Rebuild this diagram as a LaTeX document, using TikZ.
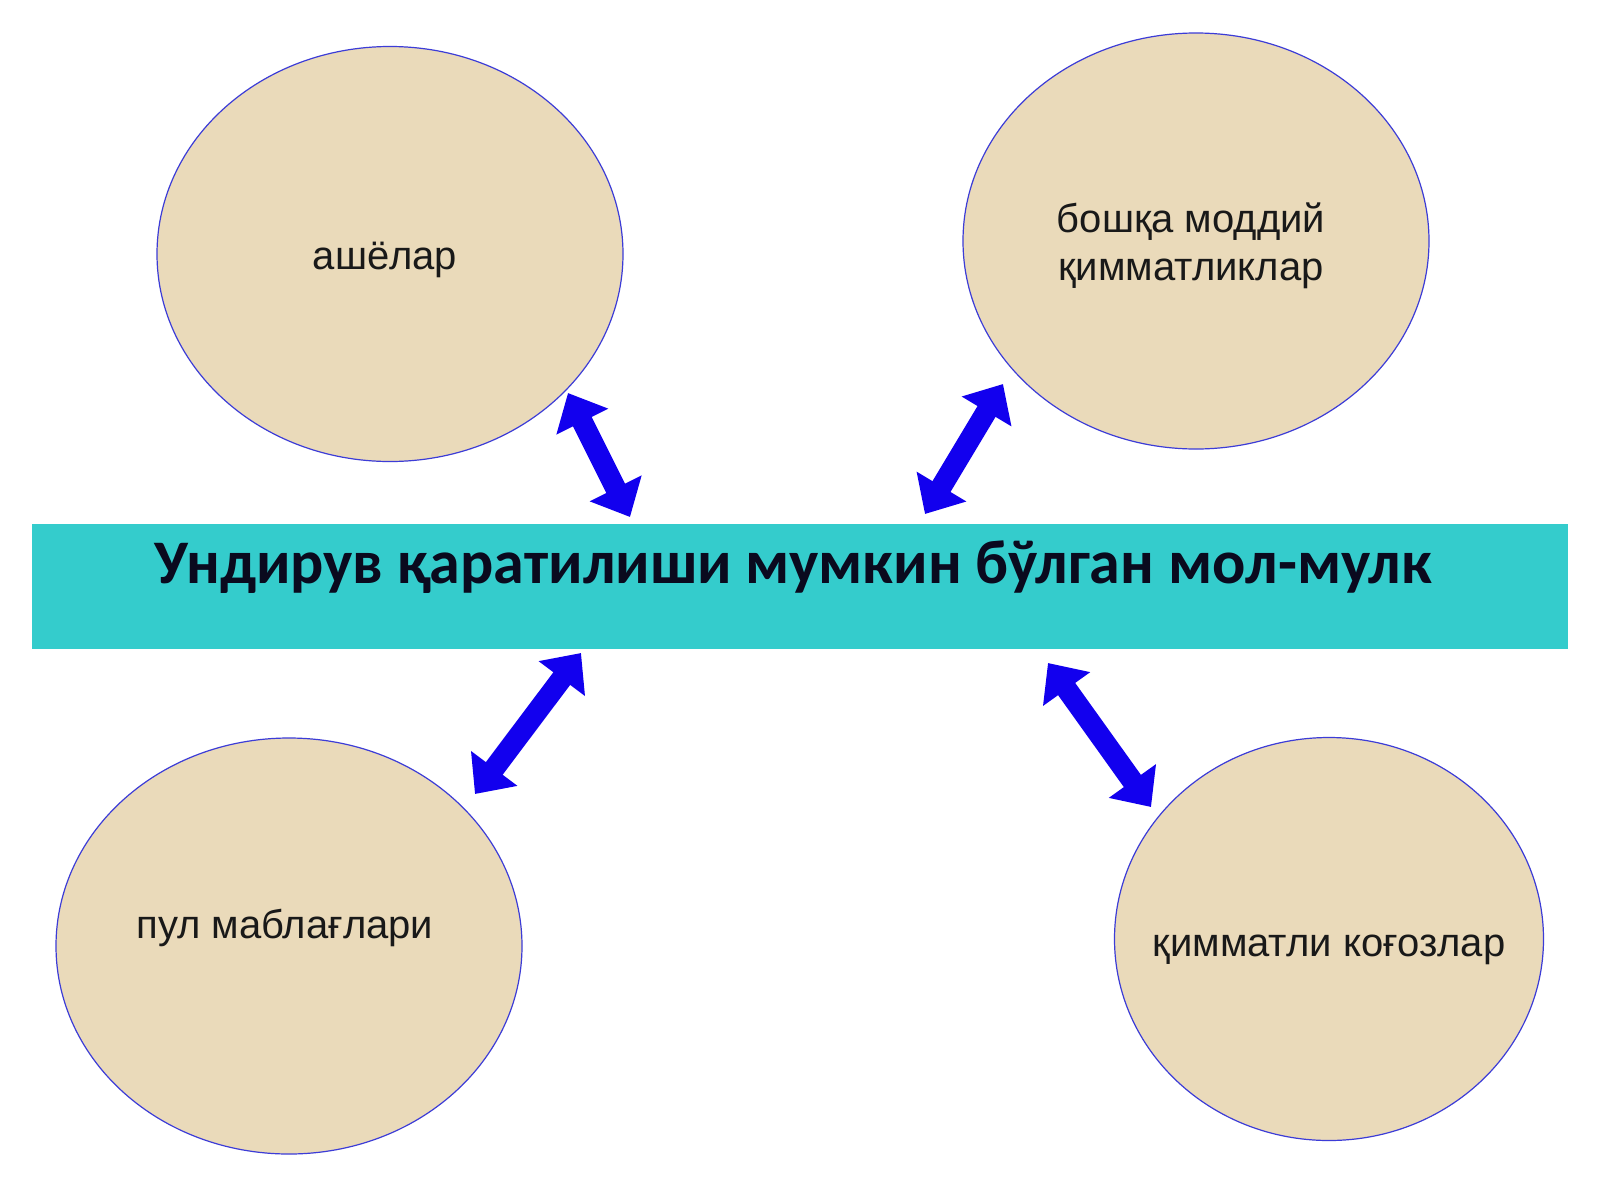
\documentclass[tikz,border=0pt]{standalone}
\usepackage{fontspec}
\setmainfont{Liberation Sans}
\newfontfamily\titlefont{Carlito}
\usetikzlibrary{arrows.meta,shapes.geometric}
\definecolor{paper}{RGB}{234,218,186}
\definecolor{rim}{RGB}{60,60,215}
\definecolor{barcol}{RGB}{52,204,204}
\definecolor{arrowblue}{RGB}{18,0,238}
\definecolor{titleink}{RGB}{10,10,30}
\tikzset{
  bubble/.style={ellipse, draw=rim, line width=1.2pt, fill=paper, inner sep=0pt},
  bubbletext/.style={font=\fontsize{40}{48.5}\selectfont, text=black!90, align=center, inner sep=0pt},
  barbox/.style={rectangle, fill=barcol, draw=none, inner sep=0pt},
  dblarrow/.style={draw=arrowblue, line width=21pt,
    {Triangle[width=56pt,length=32pt]}-{Triangle[width=56pt,length=32pt]}, arrowblue},
}
\begin{document}
\begin{tikzpicture}[x=1pt,y=-1pt]
\useasboundingbox[fill=white] (0,0) rectangle (1600,1200);

% bubbles
\node[bubble, minimum width=466pt, minimum height=415pt] (ashe) at (390,254) {};
\node[bubble, minimum width=466pt, minimum height=416pt] (boshqa) at (1196,241) {};
\node[bubble, minimum width=466pt, minimum height=416pt] (pul) at (289,946) {};
\node[bubble, minimum width=429pt, minimum height=403pt] (qimmat) at (1329,939) {};

\node[bubbletext] (t1) at (385,260) {ашёлар};
\node[bubbletext] (t2) at (1191,246) {бошқа моддий\\қимматликлар};
\node[bubbletext] (t3) at (285,928) {пул маблағлари};
\node[bubbletext] (t4) at (1329,950) {қимматли коғозлар};

% bar
\node[barbox, minimum width=1536pt, minimum height=125pt] (bar) at (800,586.5) {};
\node[font=\titlefont\bfseries\fontsize{62}{70}\selectfont, text=titleink, anchor=base, inner sep=0pt]
  (title) at (793,583) {Ундирув қаратилиши мумкин бўлган мол-мулк};

% arrows
\coordinate (a1s) at (568,393);
\coordinate (a1e) at (630,517);
\coordinate (a2s) at (1003,384);
\coordinate (a2e) at (925,514);
\coordinate (a3s) at (581,653);
\coordinate (a3e) at (475,794);
\coordinate (a4s) at (1048,663);
\coordinate (a4e) at (1151,807);
\draw[dblarrow] (a1s) -- (a1e);
\draw[dblarrow] (a2s) -- (a2e);
\draw[dblarrow] (a3s) -- (a3e);
\draw[dblarrow] (a4s) -- (a4e);
\end{tikzpicture}
\end{document}
